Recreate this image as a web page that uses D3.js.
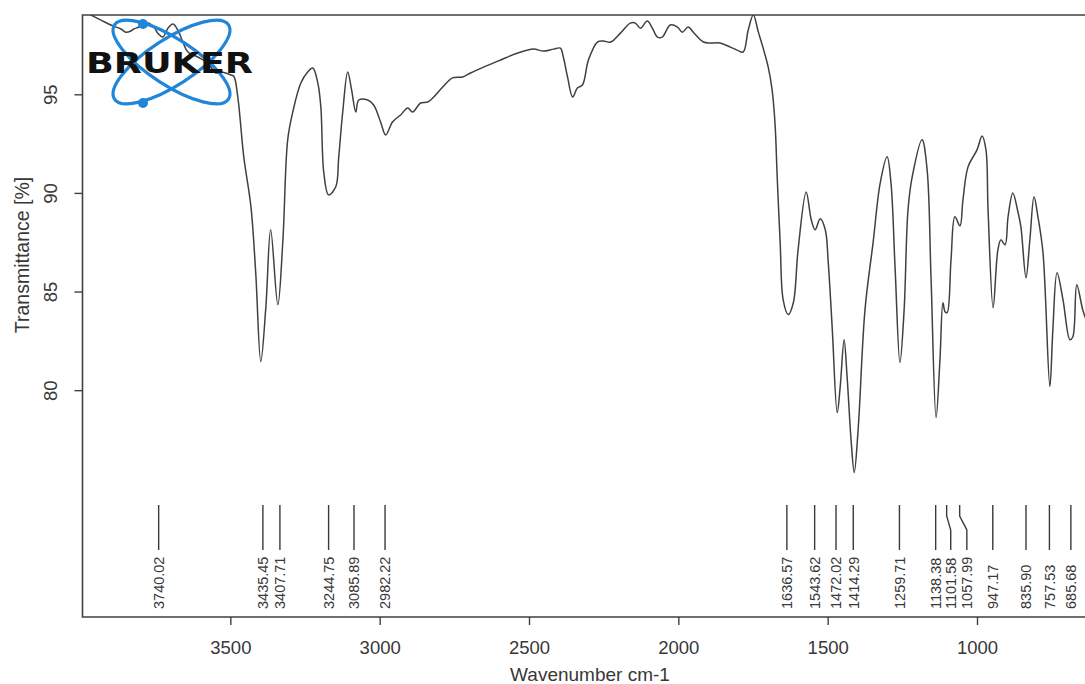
<!DOCTYPE html>
<html>
<head>
<meta charset="utf-8">
<script src="https://cdn.jsdelivr.net/npm/d3@7"></script>
<style>
  body { margin: 0; background: #fff; }
  #spectrum text { font-family: "Liberation Sans", Arial, sans-serif; fill: #383838; }
</style>
</head>
<body>
<div id="spectrum"></div>
<script>
// IR spectrum, values
var wavenumber = [3993,3967,3933,3900,3866,3850,3833,3823,3806,3776,3756,3743,3726,3709,3692,3676,3659,3642,3609,3575,
    3549,3532,3498,3488,3475,3455,3431,3415,3398,3381,3365,3341,3324,3308,3291,3264,3241,3224,3207,3197,
    3187,3171,3147,3137,3124,3107,3094,3080,3070,3040,3020,2997,2980,2957,2930,2906,2890,2863,2839,2819,
    2789,2756,2722,2696,2652,2595,2538,2485,2452,2418,2395,2385,2371,2354,2338,2321,2301,2271,2251,2227,
    2194,2161,2144,2127,2104,2087,2070,2054,2027,2003,1987,1967,1950,1916,1893,1860,1826,1803,1783,1766,
    1749,1732,1716,1699,1686,1676,1669,1659,1649,1632,1615,1599,1572,1555,1542,1525,1508,1498,1485,1468,
    1458,1445,1435,1421,1411,1398,1375,1348,1324,1301,1288,1274,1258,1244,1231,1217,1184,1167,1154,1137,
    1124,1114,1107,1100,1087,1074,1057,1047,1030,1000,983,970,963,946,930,920,906,896,880,863,
    853,836,823,809,796,779,756,746,732,712,689,679,666,646,629];
var transmittance = [99.17,99.02,98.76,98.51,98.31,98.15,98.21,98.31,98.41,98.61,98.41,98.10,97.90,98.35,98.56,98.26,97.65,97.14,96.89,96.58,
    96.08,96.13,95.98,95.90,94.86,91.83,89.29,85.95,81.45,84.23,88.13,84.33,87.62,92.69,94.10,95.57,96.13,96.33,95.57,94.36,
    91.02,89.90,90.31,91.83,94.05,96.13,95.22,94.10,94.71,94.71,94.46,93.60,92.94,93.60,93.95,94.31,94.10,94.56,94.61,94.86,
    95.37,95.83,95.88,96.08,96.38,96.74,97.09,97.29,97.19,97.29,97.34,96.89,95.88,94.86,95.32,95.47,96.74,97.65,97.70,97.65,
    98.10,98.61,98.61,98.35,98.71,98.35,97.90,97.90,98.51,98.41,98.15,98.41,98.15,97.65,97.60,97.60,97.39,97.24,97.14,98.26,
    99.02,98.15,97.34,96.38,95.22,93.45,90.81,87.47,84.58,83.83,84.43,87.12,90.05,88.64,88.13,88.69,88.13,86.46,83.22,78.86,
    80.18,82.56,80.69,77.34,75.83,78.00,84.08,87.47,90.51,91.83,90.51,86.10,81.40,84.08,89.14,90.81,92.69,91.17,85.75,78.61,
    81.55,84.43,83.98,83.93,86.61,88.79,88.33,89.65,91.32,92.18,92.89,92.18,89.14,84.18,87.12,87.62,87.37,88.79,90.00,89.04,
    88.28,85.70,87.62,89.80,88.79,86.96,80.18,83.07,85.95,84.58,82.56,82.71,85.34,84.08,83.32];

// peak picking labels: text, where the tick starts, where the text sits
var peakLabels = ['3740.02','3435.45','3407.71','3244.75','3085.89','2982.22','1636.57','1543.62','1472.02','1414.29',
    '1259.71','1138.38','1101.58','1057.99','947.17','835.90','757.53','685.68'];
var peakPos = [3740,3391,3334,3171,3086,2982,1636.57,1543.62,1472.02,1414.29,1259.71,1138.38,1101.58,1057.99,947.17,835.90,757.53,685.68];
var peakTextPos = [3740,3391,3334,3171,3086,2982,1636.57,1543.62,1472.02,1414.29,1259.71,1138.38,1088,1034,947.17,835.90,757.53,685.68];

var xTicks = [3500,3000,2500,2000,1500,1000];
var yTicks = [80,85,90,95];

var utils = {
    translation: function (x,y) {return 'translate(' + x + ',' + y + ')';}
};

document.addEventListener('DOMContentLoaded', function(){
    var width = 1085,
        height = 684;
    var left = 82.5, top = 15, bottom = 617, right = 1085;

    var svg = d3.select('#spectrum').append('svg')
        .attr('width', width)
        .attr('height', height);

    var x = d3.scaleLinear().domain([3995, 1000]).range([left, 977]);
    var y = d3.scaleLinear().domain([68.5, 99.02]).range([bottom, top]);

    svg.append('clipPath').attr('id','plot-clip')
        .append('rect')
        .attr('x', left).attr('y', top)
        .attr('width', right - left).attr('height', bottom - top);

    var data = wavenumber.map(function(w,i){ return {w: w, t: transmittance[i]}; });

    var line = d3.line()
        .x(function(d){ return x(d.w); })
        .y(function(d){ return y(d.t); })
        .curve(d3.curveCatmullRom.alpha(0.5));

    svg.append('path')
        .datum(data)
        .attr('clip-path','url(#plot-clip)')
        .attr('d', line)
        .attr('fill','none')
        .attr('stroke','#404040')
        .attr('stroke-width',1.5)
        .attr('stroke-linejoin','round');

    // peak ticks + labels
    var peaks = svg.append('g').attr('class','peaks');
    peakLabels.forEach(function(lab,i){
        var x0 = x(peakPos[i]), x1 = x(peakTextPos[i]);
        var pts = x0 === x1 ? [[x0,505],[x0,550]] : [[x0,505],[x0,516],[x1,530],[x1,550]];
        peaks.append('path')
            .attr('d', d3.line()(pts))
            .attr('fill','none')
            .attr('stroke','#3a3a3a')
            .attr('stroke-width',1.4);
        peaks.append('text')
            .attr('transform', utils.translation(x1, 609) + ' rotate(-90)')
            .attr('dy','0.36em')
            .attr('text-anchor','start')
            .style('font-size','14.5px')
            .text(lab);
    });

    // box (right side runs off the page)
    svg.append('path')
        .attr('d', 'M' + right + ',' + top + 'H' + left + 'V' + bottom + 'H' + right)
        .attr('fill','none')
        .attr('stroke','#404040')
        .attr('stroke-width',1.6);

    var xAxis = svg.append('g')
        .attr('transform', utils.translation(0, bottom))
        .call(d3.axisBottom(x).tickValues(xTicks).tickSize(8).tickFormat(d3.format('d')));
    xAxis.select('.domain').remove();
    xAxis.selectAll('line').attr('stroke','#404040').attr('stroke-width',1.4);
    xAxis.selectAll('text')
        .attr('y', 37).attr('dy', 0)
        .style('font-size','18.5px');

    var yAxis = svg.append('g')
        .attr('transform', utils.translation(left, 0))
        .call(d3.axisLeft(y).tickValues(yTicks).tickSize(8));
    yAxis.select('.domain').remove();
    yAxis.selectAll('line').attr('stroke','#404040').attr('stroke-width',1.4);
    yAxis.selectAll('text')
        .attr('transform','rotate(-90)')
        .attr('x', 0).attr('y', -26).attr('dy', 0)
        .attr('text-anchor','middle')
        .style('font-size','18.5px');

    svg.append('text')
        .attr('x', 590).attr('y', 681)
        .attr('text-anchor','middle')
        .style('font-size','19px')
        .text('Wavenumber cm-1');

    svg.append('text')
        .attr('transform', utils.translation(29, 255) + ' rotate(-90)')
        .attr('text-anchor','middle')
        .style('font-size','19.5px')
        .text('Transmittance [%]');

    // Bruker logo
    var logo = svg.append('g').attr('class','logo');
    [33, -33].forEach(function(a){
        logo.append('ellipse')
            .attr('cx', 171.5).attr('cy', 62)
            .attr('rx', 68).attr('ry', 23)
            .attr('transform', 'rotate(' + a + ',171.5,62)')
            .attr('fill','none')
            .attr('stroke','#1f86d9')
            .attr('stroke-width',3.2);
    });
    logo.selectAll('circle')
        .data([[143,24],[143,103]])
        .enter().append('circle')
        .attr('cx', function(d){ return d[0]; })
        .attr('cy', function(d){ return d[1]; })
        .attr('r', 5)
        .attr('fill','#1f86d9');
    logo.append('text')
        .attr('x', 86).attr('y', 73)
        .attr('textLength', 167)
        .attr('lengthAdjust','spacingAndGlyphs')
        .style('font-family','"DejaVu Sans", sans-serif')
        .style('font-weight','bold')
        .style('font-size','28px')
        .style('fill','#111')
        .text('BRUKER');
});
</script>
</body>
</html>
